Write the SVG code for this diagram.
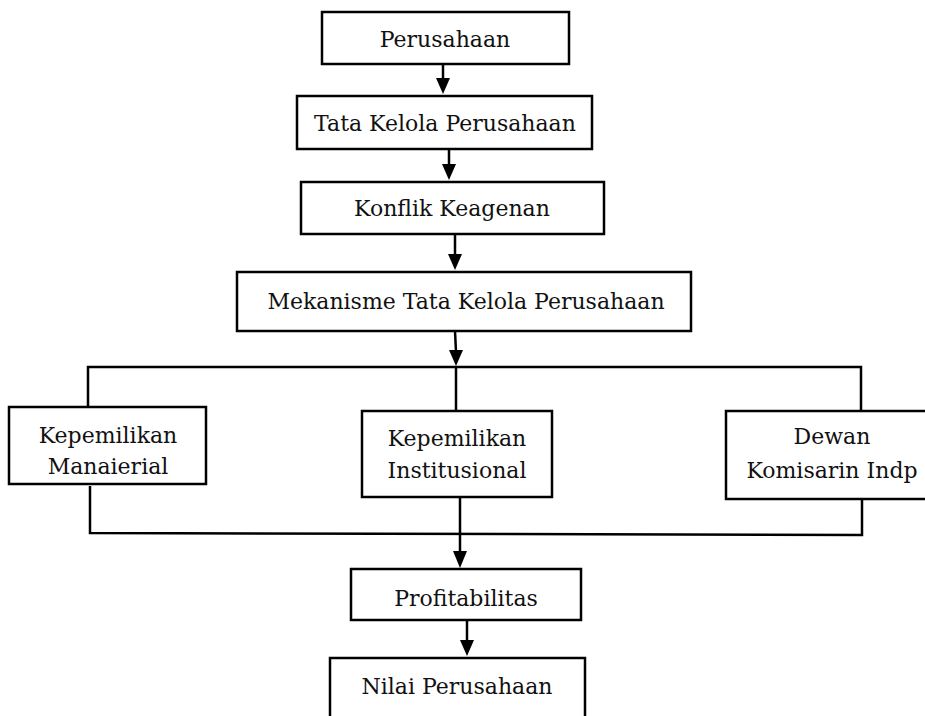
<svg xmlns="http://www.w3.org/2000/svg" width="925" height="716" viewBox="0 0 925 716">
<defs>
<style>
.box{fill:#fff;stroke:#000;stroke-width:2.5}
.t{font-family:"DejaVu Serif","Liberation Serif",serif;font-size:22px;fill:#111;text-anchor:middle}
.c{fill:none;stroke:#000;stroke-width:2.5}
</style>
</defs>
<rect width="925" height="716" fill="#fff"/>
<g id="connectors">
<line class="c" x1="443" y1="64" x2="443" y2="80"/>
<path d="M436,78 L450,78 L443,94 Z"/>
<line class="c" x1="449" y1="149" x2="449" y2="166"/>
<path d="M442,164 L456,164 L449,180 Z"/>
<line class="c" x1="455" y1="234" x2="455" y2="256"/>
<path d="M448,254 L462,254 L455,270 Z"/>
<line class="c" x1="455" y1="331" x2="456" y2="352"/>
<path d="M449,350 L463,350 L456,366 Z"/>
<polyline class="c" points="88,407 88,367 861,367 861,411"/>
<line class="c" x1="456" y1="367" x2="456" y2="411"/>
<polyline class="c" points="90,486 90,533 862,535 862,499"/>
<line class="c" x1="460" y1="497" x2="460" y2="552"/>
<path d="M453,551 L467,551 L460,568 Z"/>
<line class="c" x1="467" y1="620" x2="467" y2="642"/>
<path d="M460,640 L474,640 L467,656 Z"/>
</g>
<g id="n1"><rect class="box" x="322" y="12" width="247" height="52"/><text class="t" x="445" y="47">Perusahaan</text></g>
<g id="n2"><rect class="box" x="297" y="96" width="295" height="53"/><text class="t" x="445" y="131">Tata Kelola Perusahaan</text></g>
<g id="n3"><rect class="box" x="301" y="182" width="303" height="52"/><text class="t" x="452" y="216">Konflik Keagenan</text></g>
<g id="n4"><rect class="box" x="237" y="272" width="454" height="59"/><text class="t" x="466" y="309">Mekanisme Tata Kelola Perusahaan</text></g>
<g id="n5"><rect class="box" x="9" y="407" width="197" height="77"/><text class="t" x="108" y="443">Kepemilikan</text><text class="t" x="108" y="474">Manaierial</text></g>
<g id="n6"><rect class="box" x="362" y="411" width="190" height="86"/><text class="t" x="457" y="446">Kepemilikan</text><text class="t" x="457" y="478">Institusional</text></g>
<g id="n7"><rect class="box" x="726" y="411" width="212" height="88"/><text class="t" x="832" y="444">Dewan</text><text class="t" x="832" y="478">Komisarin Indp</text></g>
<g id="n8"><rect class="box" x="351" y="569" width="230" height="51"/><text class="t" x="466" y="606">Profitabilitas</text></g>
<g id="n9"><rect class="box" x="330" y="658" width="255" height="70"/><text class="t" x="457" y="694">Nilai Perusahaan</text></g>
</svg>
